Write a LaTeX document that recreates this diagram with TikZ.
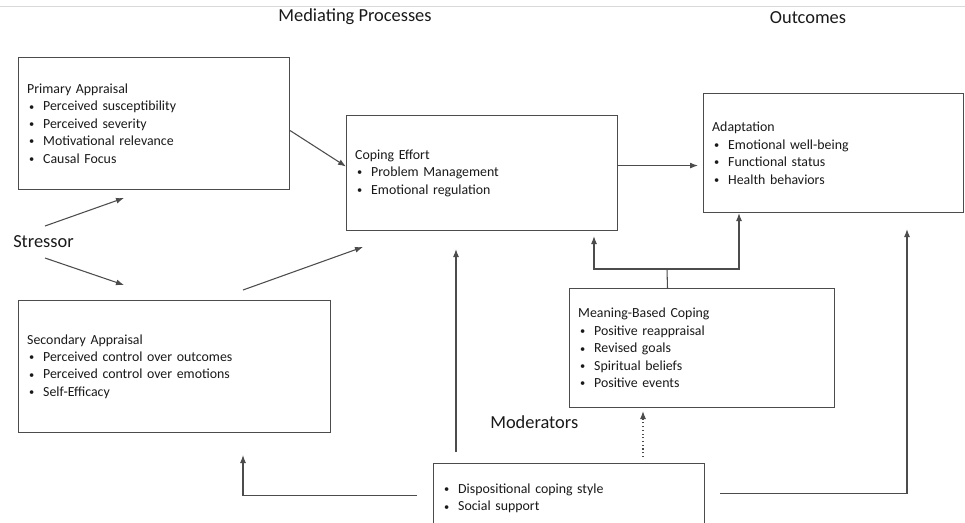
\documentclass[tikz,border=0pt]{standalone}
\usepackage{fontspec}
\setmainfont{Carlito}
\usetikzlibrary{arrows.meta}

\newcommand{\itm}[1]{\hspace*{1.5pt}\makebox[10.5pt][l]{\raisebox{0.6pt}{\scalebox{0.75}{\textbullet}}}#1}

\begin{document}
\begin{tikzpicture}
    [
        x=0.75pt, y=-0.75pt,
        >={Latex[length=6pt, width=4.5pt]},
        line_col/.style={draw=black!70, line width=0.8pt},
        box_node/.style={rectangle, line_col, anchor=north west, align=left, inner xsep=6.5pt, inner ysep=0pt, text=black!90, font=\fontsize{10.4pt}{13.1pt}\selectfont},
        head_node/.style={inner sep=0pt, text=black!90, font=\fontsize{13.8pt}{16pt}\selectfont},
        arrow_line/.style={->, line_col},
    ]
        \useasboundingbox (0,0) rectangle (965,522) ;
        \clip (0,0) rectangle (965,522) ;
        \draw[black!15, line width=0.75pt] (0,6) -- (965,6) ;

        % headings
        \node[head_node] (mediating) at (355,17) {Mediating Processes} ;
        \node[head_node] (outcomes) at (808,18) {Outcomes} ;
        \node[head_node, anchor=west] (stressor) at (13,242) {Stressor} ;
        \node[head_node, anchor=west] (moderators) at (490,422) {Moderators} ;

        % boxes
        \node[box_node, text width=190.25pt, minimum width=203.25pt, minimum height=99pt] (prim) at (18,57)
            {Primary Appraisal\\ \itm{Perceived susceptibility}\\ \itm{Perceived severity}\\ \itm{Motivational relevance}\\ \itm{Causal Focus}} ;
        \node[box_node, text width=221pt, minimum width=234pt, minimum height=99pt] (second) at (18,300)
            {Secondary Appraisal\\ \itm{Perceived control over outcomes}\\ \itm{Perceived control over emotions}\\ \itm{Self-Efficacy}} ;
        \node[box_node, text width=190.25pt, minimum width=203.25pt, minimum height=86.25pt] (cope) at (346,115)
            {Coping Effort\\ \itm{Problem Management}\\ \itm{Emotional regulation}} ;
        \node[box_node, text width=182pt, minimum width=195pt, minimum height=89.25pt] (adapt) at (703,93)
            {Adaptation\\ \itm{Emotional well-being}\\ \itm{Functional status}\\ \itm{Health behaviors}} ;
        \node[box_node, text width=185.75pt, minimum width=198.75pt, minimum height=89.25pt] (meaning) at (569,288)
            {Meaning-Based Coping\\ \itm{Positive reappraisal}\\ \itm{Revised goals}\\ \itm{Spiritual beliefs}\\ \itm{Positive events}} ;
        \node[box_node, text width=190.25pt, minimum width=203.25pt, minimum height=52.5pt] (moder) at (433,463)
            {\itm{Dispositional coping style}\\ \itm{Social support}} ;

        % free ends
        \coordinate (stress_up) at (45,226) ;
        \coordinate (prim_in) at (124,198) ;
        \coordinate (stress_down) at (45,258) ;
        \coordinate (second_in) at (124,285) ;
        \coordinate (second_out) at (243,290) ;
        \coordinate (cope_in) at (363,247) ;
        \coordinate (second_up) at (243,455) ;
        \coordinate (dot_foot) at (643,457) ;
        \coordinate (split) at (667,269) ;
        \coordinate (split_west) at (594,269) ;
        \coordinate (split_east) at (739,269) ;
        \coordinate (out_corner) at (907,493) ;

        % connectors
        \draw[arrow_line] (stress_up) to (prim_in) ;
        \draw[arrow_line] (stress_down) to (second_in) ;
        \draw[arrow_line] (second_out) to (cope_in) ;
        \draw[arrow_line] ([yshift=-5.25pt]prim.east) to ([yshift=4.9pt]cope.west) ;
        \draw[arrow_line, shorten >=3.75pt] ([yshift=5.6pt]cope.east) to ([yshift=5.6pt]cope.east -| adapt.west) ;
        \draw[arrow_line, shorten <=8.25pt, shorten >=13.5pt] ([xshift=17.25pt]moder.north west) to ([xshift=17.25pt]moder.north west |- cope.south) ;
        \draw[arrow_line, shorten <=12pt] ([yshift=2.25pt]moder.west) -| (second_up) ;
        \draw[arrow_line, dotted, shorten >=2.25pt] (dot_foot) to (dot_foot |- meaning.south) ;
        \draw[line_col] ([xshift=-25.9pt]meaning.north) -- (split) ;
        \draw[arrow_line, shorten >=3.75pt] (split) -- (split_west) -- (split_west |- cope.south) ;
        \draw[arrow_line] (split) -- (split_east) -- (split_east |- adapt.south) ;
        \draw[arrow_line, shorten <=11.25pt, shorten >=12pt] ([yshift=3.75pt]moder.east) -| (out_corner |- adapt.south) ;
    \end{tikzpicture}
\end{document}
